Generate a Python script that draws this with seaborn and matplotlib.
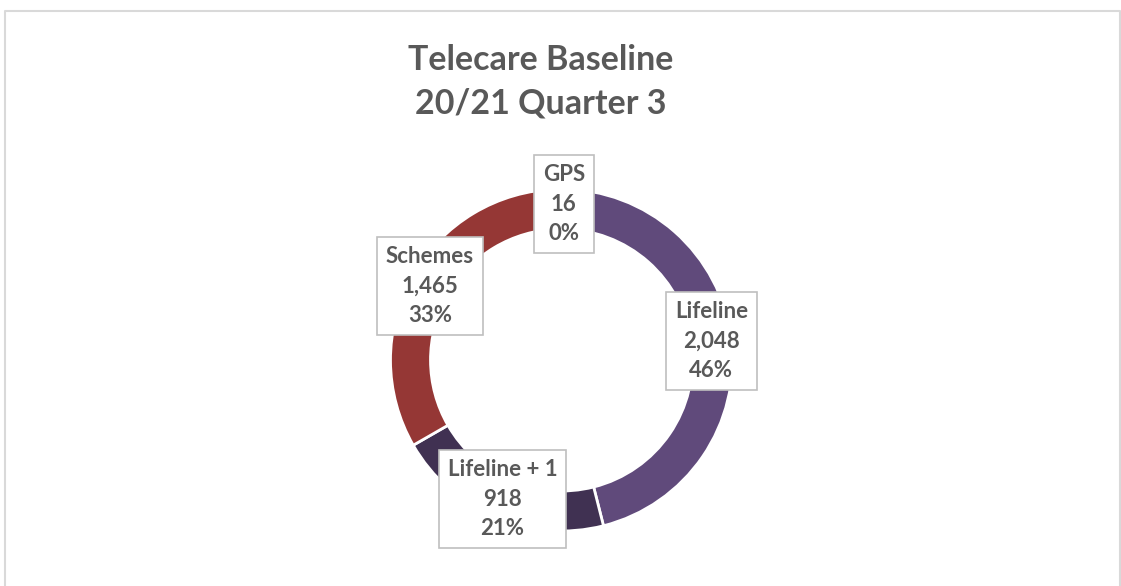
import matplotlib
matplotlib.use("Agg")
import matplotlib.pyplot as plt
import seaborn as sns
import numpy as np
from matplotlib.lines import Line2D

# ---- data ----
categories = ["Lifeline", "Lifeline + 1", "Schemes", "GPS"]
values = [2048, 918, 1465, 16]
colors = ["#604A7B", "#403152", "#953735", "#4F81BD"]
title_lines = ["Telecare Baseline", "20/21 Quarter 3"]

sns.set_theme(style="white")
plt.rcParams['font.family'] = ['Lato', 'DejaVu Sans']

W, H = 1121, 586
fig = plt.figure(figsize=(W / 100, H / 100), dpi=100)
fig.patch.set_facecolor("white")
ax = fig.add_axes([0, 0, 1, 1])

cx, cy = 561.5, H - 360
R = 171
ring_w = 40
wedges, _ = ax.pie(values, colors=colors, startangle=90, counterclock=False,
                   radius=R, center=(cx, cy),
                   wedgeprops=dict(width=ring_w, edgecolor="white", linewidth=2))
ax.set_aspect("auto")
ax.set_xlim(0, W)
ax.set_ylim(0, H)
ax.axis("off")

# small layout nudges (pixels) for label boxes
nudges = {"GPS": (4, 5)}

total = sum(values)
rm = R - ring_w / 2
text_color = "#595959"
for w, cat, val in zip(wedges, categories, values):
    ang = np.deg2rad((w.theta1 + w.theta2) / 2)
    dx, dy = nudges.get(cat, (0, 0))
    x = cx + rm * np.cos(ang) + dx
    y = cy + rm * np.sin(ang) + dy
    pct = round(100 * val / total)
    ax.text(x, y, f"{cat}\n{val:,}\n{pct}%", ha="center", va="center",
            fontsize=16, fontweight="bold", color=text_color, linespacing=1.5,
            bbox=dict(boxstyle="square,pad=0.4", fc="white", ec="#BFBFBF", lw=1.2),
            zorder=5)

fig.text(541 / W, 1 - 60 / H, title_lines[0], ha="center", va="center",
         fontsize=24.5, fontweight="bold", color=text_color)
fig.text(541 / W, 1 - 104 / H, title_lines[1], ha="center", va="center",
         fontsize=24.5, fontweight="bold", color=text_color)

fig.add_artist(Line2D([4.5 / W, 4.5 / W, 1119.5 / W, 1119.5 / W],
                      [0, 1 - 11 / H, 1 - 11 / H, 0],
                      transform=fig.transFigure, color="#D9D9D9", lw=1.5))

fig.savefig("out.png", dpi=100, facecolor="white")
